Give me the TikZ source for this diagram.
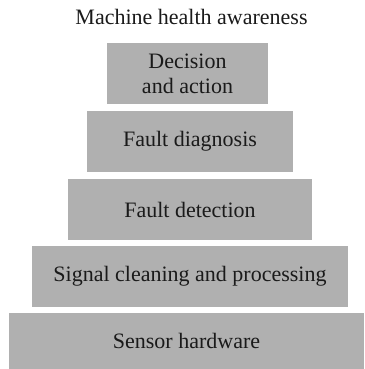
\documentclass[tikz,border=0pt]{standalone}
\usepackage{fontspec}
\setmainfont{Liberation Serif}
\definecolor{boxgray}{HTML}{B0B0B0}
\definecolor{txt}{HTML}{1A1A1A}
\begin{document}
\begin{tikzpicture}[x=1pt,y=-1pt,
  level/.style={rectangle, fill=boxgray, inner sep=0pt, align=center, text=txt,
    font=\fontsize{22}{25}\selectfont},
  ttl/.style={inner sep=0pt, text=txt, font=\fontsize{22}{25}\selectfont}]
\useasboundingbox (0,0) rectangle (364,369);
\node[ttl] (title) at (191.5,17) {Machine health awareness};
\node[level, minimum width=161pt, minimum height=61pt] (l5) at (187.5,73.5) {Decision\\and action};
\node[level, minimum width=206pt, minimum height=61pt] (l4) at (190,141.5) {Fault diagnosis};
\node[level, minimum width=244pt, minimum height=61pt] (l3) at (190,209.5) {Fault detection};
\node[level, minimum width=316pt, minimum height=61pt] (l2) at (190,276.5) {Signal cleaning and processing};
\node[level, minimum width=355pt, minimum height=56pt] (l1) at (186.5,341) {Sensor hardware};
\end{tikzpicture}
\end{document}
